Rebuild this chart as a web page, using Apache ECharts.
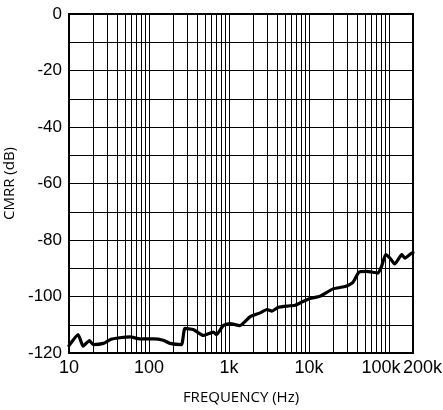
<!DOCTYPE html>
<html>
<head>
<meta charset="utf-8">
<script src="https://cdn.jsdelivr.net/npm/echarts@6/dist/echarts.min.js"></script>
<style>
html,body{margin:0;padding:0;background:#fff;}
#c{width:443px;height:410px;}
</style>
</head>
<body>
<div id="c"></div>
<script>
var freq = [10, 13, 15, 18, 20, 27, 33, 43, 58, 77, 113, 151, 183, 255, 281, 358, 478, 638, 700, 850, 1025, 1370, 1830, 2450, 2980, 3440, 4150, 6700, 8100, 10300, 13700, 20000, 29000, 35500, 42000, 52000, 73000, 81000, 91000, 103000, 118000, 145000, 158000, 193000, 200000];
var cmrr = [-117.4, -113.5, -117.6, -115.6, -117, -116.6, -115.2, -114.6, -114.3, -115, -115, -115.5, -116.6, -117, -111.3, -111.7, -113.8, -112.6, -113.5, -110.3, -109.6, -110.3, -107.2, -105.8, -104.6, -105.2, -103.8, -103.1, -102, -100.7, -99.9, -97.3, -96.4, -95, -91.4, -91.1, -91.7, -89.3, -85.2, -86.4, -88.5, -85.2, -86.4, -84.6, -84.5];
var xTickLabels = [10, 100, 1000, 10000, 100000, 200000];
var xLabelText = ['10', '100', '1k', '10k', '100k', '200k'];
var xGridValues = [];
[10, 100, 1000, 10000, 100000].forEach(function (d) {
  for (var k = 1; k <= 9; k++) { if (d * k <= 200000) xGridValues.push(d * k); }
});
xGridValues.push(200000);

var data = freq.map(function (f, i) { return [f, cmrr[i]]; });
var chart = echarts.init(document.getElementById('c'));
chart.setOption({
  animation: false,
  grid: { left: 69, right: 30, top: 14, bottom: 57, outerBoundsMode: 'none', containLabel: false, show: true, borderColor: '#000', borderWidth: 2, backgroundColor: 'transparent' },
  xAxis: {
    type: 'log', logBase: 10, min: 10, max: 200000,
    name: 'FREQUENCY (Hz)', nameLocation: 'middle', nameGap: 37,
    nameTextStyle: { fontFamily: 'Open Sans', fontSize: 15, color: '#000' },
    axisLine: { show: true, lineStyle: { color: '#000', width: 2 } },
    axisTick: { show: false, customValues: xGridValues },
    splitLine: { show: true, lineStyle: { color: '#000', width: 1 } },
    axisLabel: {
      customValues: xTickLabels,
      fontFamily: 'Liberation Sans', fontSize: 18, color: '#000', margin: 6,
      formatter: function (v) {
        var i = xTickLabels.indexOf(v);
        var t = i >= 0 ? xLabelText[i] : '';
        if (t === '100k') return '{l|' + t + '}';
        if (t === '200k') return '{r|' + t + '}';
        return t;
      },
      rich: {
        l: { fontFamily: 'Liberation Sans', fontSize: 18, color: '#000', padding: [0, 16, 0, 0] },
        r: { fontFamily: 'Liberation Sans', fontSize: 18, color: '#000', padding: [0, 0, 0, 19] }
      }
    }
  },
  yAxis: {
    type: 'value', min: -120, max: 0, interval: 10,
    name: 'CMRR (dB)', nameLocation: 'middle', nameGap: 50, nameRotate: 90,
    nameTextStyle: { fontFamily: 'Open Sans', fontSize: 15, color: '#000' },
    axisLine: { show: true, lineStyle: { color: '#000', width: 2 } },
    axisTick: { show: false },
    splitLine: { show: true, lineStyle: { color: '#000', width: 1 } },
    axisLabel: {
      fontFamily: 'Liberation Sans', fontSize: 17, color: '#000', margin: 7,
      formatter: function (v) { return v % 20 === 0 ? String(v) : ''; }
    }
  },
  series: [{
    type: 'line', data: data, showSymbol: false, smooth: 0.15,
    lineStyle: { color: '#000', width: 3.2, join: 'round', cap: 'round' }
  }]
});
</script>
</body>
</html>
